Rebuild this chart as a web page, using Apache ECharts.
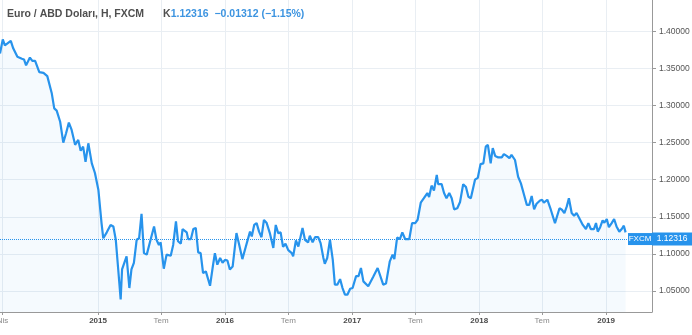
<!DOCTYPE html>
<html><head><meta charset="utf-8">
<script src="https://cdn.jsdelivr.net/npm/echarts@6/dist/echarts.min.js"></script>
<style>html,body{margin:0;padding:0;background:#fff}#c{width:692px;height:335px}</style>
</head><body><div id="c"></div>
<script>
const symbolTitle = 'Euro / ABD Doları, H, FXCM';
const lastPrice = 1.12316;
const change = -0.01312;
const changePct = -1.15;

const dates = [
'2014-03-25','2014-04-02','2014-04-08','2014-04-25','2014-05-02','2014-05-14','2014-05-27','2014-06-02','2014-06-08','2014-06-19','2014-06-26','2014-07-04','2014-07-16','2014-07-28','2014-08-08','2014-08-21','2014-08-28','2014-09-04','2014-09-14','2014-09-23','2014-10-01','2014-10-09','2014-10-17','2014-10-27','2014-11-05','2014-11-12','2014-11-19','2014-11-26','2014-12-04','2014-12-14','2014-12-23',
'2015-01-02','2015-01-11','2015-01-16','2015-01-26','2015-02-06','2015-02-14','2015-02-21','2015-02-28','2015-03-07','2015-03-11','2015-03-24','2015-04-01','2015-04-07','2015-04-14','2015-04-22','2015-04-29','2015-05-06','2015-05-13','2015-05-21','2015-06-01','2015-06-11','2015-06-18','2015-06-25','2015-06-30','2015-07-09','2015-07-17','2015-07-29','2015-08-05','2015-08-13','2015-08-19','2015-08-27','2015-09-01','2015-09-13','2015-09-17','2015-09-25','2015-10-02','2015-10-09','2015-10-16','2015-10-23','2015-10-30','2015-11-07','2015-11-19','2015-11-27','2015-12-03','2015-12-10','2015-12-18','2015-12-25',
'2016-01-01','2016-01-08','2016-01-15','2016-01-23','2016-02-03','2016-02-11','2016-02-20','2016-03-01','2016-03-13','2016-03-18','2016-03-25','2016-04-01','2016-04-08','2016-04-15','2016-04-22','2016-04-30','2016-05-09','2016-05-19','2016-05-26','2016-06-02','2016-06-09','2016-06-16','2016-06-23','2016-07-01','2016-07-11','2016-07-15','2016-07-23','2016-07-30','2016-08-11','2016-08-18','2016-08-27','2016-09-01','2016-09-09','2016-09-16','2016-09-25','2016-10-02','2016-10-10','2016-10-14','2016-10-21','2016-10-29','2016-11-06','2016-11-12','2016-11-19','2016-11-27','2016-12-04','2016-12-11','2016-12-18','2016-12-26',
'2017-01-02','2017-01-12','2017-01-19','2017-01-26','2017-02-02','2017-02-16','2017-03-02','2017-03-15','2017-03-31','2017-04-08','2017-04-19','2017-04-27','2017-05-02','2017-05-10','2017-05-18','2017-05-25','2017-06-02','2017-06-14','2017-06-22','2017-07-01','2017-07-08','2017-07-17','2017-07-26','2017-08-05','2017-08-10','2017-08-17','2017-08-24','2017-09-01','2017-09-05','2017-09-15','2017-09-22','2017-09-29','2017-10-07','2017-10-14','2017-10-21','2017-10-30','2017-11-07','2017-11-16','2017-11-24','2017-12-01','2017-12-08','2017-12-20','2017-12-28',
'2018-01-05','2018-01-13','2018-01-20','2018-01-26','2018-02-03','2018-02-09','2018-02-16','2018-02-25','2018-03-07','2018-03-13','2018-03-21','2018-03-29','2018-04-04','2018-04-14','2018-04-23','2018-05-01','2018-05-10','2018-05-18','2018-05-25','2018-06-01','2018-06-08','2018-06-15','2018-06-25','2018-07-01','2018-07-06','2018-07-16','2018-07-26','2018-08-07','2018-08-12','2018-08-20','2018-08-27','2018-09-03','2018-09-10','2018-09-16','2018-09-24','2018-10-01','2018-10-08','2018-10-16','2018-10-26','2018-11-04','2018-11-11','2018-11-18','2018-11-27','2018-12-03','2018-12-08','2018-12-15','2018-12-22','2018-12-27',
'2019-01-03','2019-01-09','2019-01-17','2019-01-24','2019-01-31','2019-02-08','2019-02-15','2019-02-21','2019-02-26'
];

const closes = [
1.370,1.389,1.381,1.387,1.377,1.3655,1.363,1.362,1.354,1.3646,1.360,1.360,1.345,1.344,1.3395,1.316,1.296,1.293,1.278,1.250,1.2625,1.277,1.267,1.247,1.2535,1.239,1.2445,1.224,1.249,1.222,1.209,
1.186,1.1415,1.121,1.129,1.139,1.137,1.119,1.079,1.0385,1.079,1.0967,1.054,1.079,1.088,1.119,1.121,1.154,1.101,1.099,1.119,1.137,1.119,1.112,1.1155,1.080,1.099,1.0975,1.112,1.1437,1.117,1.1137,1.1335,1.129,1.120,1.120,1.1335,1.135,1.102,1.101,1.074,1.0765,1.057,1.083,1.101,1.0855,1.0945,1.088,
1.092,1.091,1.079,1.083,1.128,1.112,1.093,1.110,1.130,1.1235,1.139,1.1415,1.130,1.1225,1.1457,1.1415,1.128,1.108,1.139,1.128,1.129,1.1095,1.1137,1.105,1.101,1.0967,1.118,1.110,1.135,1.119,1.1155,1.1245,1.1155,1.1225,1.1225,1.1145,1.0945,1.0867,1.0945,1.119,1.092,1.0585,1.0585,1.066,1.054,1.045,1.045,1.053,
1.054,1.070,1.070,1.081,1.063,1.0565,1.069,1.081,1.0585,1.060,1.090,1.099,1.093,1.122,1.120,1.129,1.120,1.120,1.1415,1.1415,1.146,1.169,1.175,1.182,1.1765,1.192,1.1855,1.2065,1.194,1.194,1.182,1.175,1.182,1.175,1.160,1.1615,1.170,1.194,1.190,1.177,1.175,1.200,1.2025,
1.221,1.222,1.2445,1.247,1.222,1.2425,1.232,1.230,1.230,1.2345,1.232,1.229,1.2335,1.2265,1.204,1.195,1.1796,1.166,1.166,1.178,1.160,1.1675,1.172,1.173,1.169,1.173,1.1595,1.1415,1.1437,1.1615,1.1595,1.155,1.164,1.175,1.155,1.1514,1.155,1.148,1.139,1.1335,1.1415,1.1335,1.1335,1.1415,1.130,1.136,1.145,1.142,
1.147,1.136,1.1415,1.147,1.137,1.130,1.1335,1.138,1.129
];

const yTicks = [1.05, 1.10, 1.15, 1.20, 1.25, 1.30, 1.35, 1.40];
const xTicks = ['2014-04-01','2015-01-01','2015-07-01','2016-01-01','2016-07-01','2017-01-01','2017-07-01','2018-01-01','2018-07-01','2019-01-01'];
const xTickLabels = ['Nis','2015','Tem','2016','Tem','2017','Tem','2018','Tem','2019'];
const xRange = ['2014-03-25', '2019-05-13'];
const yRange = [1.0217, 1.4421];

function toTime(s) {
  const p = s.split('-').map(Number);
  return Date.UTC(p[0], p[1] - 1, p[2]);
}
const xTickTimes = xTicks.map(toTime);
const seriesData = dates.map((d, i) => [toTime(d), closes[i]]);

const FONT = 'Liberation Sans, Arial, sans-serif';
const BLUE = '#2793ec';
const headerValue = lastPrice.toFixed(5) + '  \u2212' + Math.abs(change).toFixed(5) +
  ' (\u2212' + Math.abs(changePct).toFixed(2) + '%)';

const chart = echarts.init(document.getElementById('c'), null, {renderer: 'canvas'});
chart.setOption({
  animation: false,
  textStyle: {fontFamily: FONT},
  title: {
    left: 2, top: 4,
    text: '{a|' + symbolTitle + '}{k|K}{v|' + headerValue + '}',
    textStyle: {
      rich: {
        a: {fontSize: 10.5, color: '#4f4f4f', fontFamily: FONT},
        k: {fontSize: 10.5, color: '#4f4f4f', fontFamily: FONT, padding: [0, 0, 0, 19]},
        v: {fontSize: 10.5, color: '#3d94e0', fontFamily: FONT}
      }
    }
  },
  grid: {left: 0, right: 40, top: 0, bottom: 23, containLabel: false, outerBoundsMode: 'none'},
  xAxis: {
    type: 'value',
    min: toTime(xRange[0]),
    max: toTime(xRange[1]),
    axisLine: {show: true, lineStyle: {color: '#999', width: 1}},
    axisTick: {show: true, length: 3, customValues: xTickTimes, lineStyle: {color: '#999'}},
    axisLabel: {
      customValues: xTickTimes,
      margin: 5,
      hideOverlap: false,
      formatter: function (v) {
        let idx = 0, best = Infinity;
        xTickTimes.forEach((t, i) => { const d = Math.abs(t - v); if (d < best) { best = d; idx = i; } });
        const lab = xTickLabels[idx];
        return /^\d{4}$/.test(lab) ? '{y|' + lab + '}' : '{m|' + lab + '}';
      },
      rich: {
        y: {fontSize: 8, fontWeight: 'bold', color: '#4a4a4a', fontFamily: FONT},
        m: {fontSize: 8, color: '#8a8a8a', fontFamily: FONT}
      }
    },
    splitLine: {show: true, lineStyle: {color: '#e9eef3', width: 1}}
  },
  yAxis: {
    type: 'value',
    position: 'right',
    min: yRange[0],
    max: yRange[1],
    axisLine: {show: true, lineStyle: {color: '#999', width: 1}},
    axisTick: {show: true, length: 4, customValues: yTicks, lineStyle: {color: '#999'}},
    axisLabel: {
      customValues: yTicks,
      margin: 7,
      fontSize: 8.5,
      color: '#555',
      fontFamily: FONT,
      formatter: v => v.toFixed(5)
    },
    splitLine: {show: true, lineStyle: {color: '#e9eef3', width: 1}}
  },
  series: [{
    type: 'line',
    data: seriesData,
    showSymbol: false,
    symbol: 'none',
    lineStyle: {color: BLUE, width: 2.2},
    itemStyle: {color: BLUE},
    areaStyle: {color: 'rgba(33,150,243,0.06)'},
    markLine: {
      silent: true,
      symbol: ['none', 'none'],
      lineStyle: {type: 'dotted', color: BLUE, width: 1},
      label: {
        show: true,
        position: 'end',
        distance: 0,
        offset: [-24, 0],
        formatter: () => '{f|FXCM}{v|' + lastPrice.toFixed(5) + '}',
        rich: {
          f: {backgroundColor: BLUE, color: '#fff', fontSize: 8, fontFamily: FONT, width: 18, align: 'center', padding: [2, 3]},
          v: {backgroundColor: BLUE, color: '#fff', fontSize: 8.5, fontFamily: FONT, width: 34, align: 'center', padding: [2, 3]}
        }
      },
      data: [{yAxis: lastPrice}]
    }
  }]
});
</script>
</body></html>
